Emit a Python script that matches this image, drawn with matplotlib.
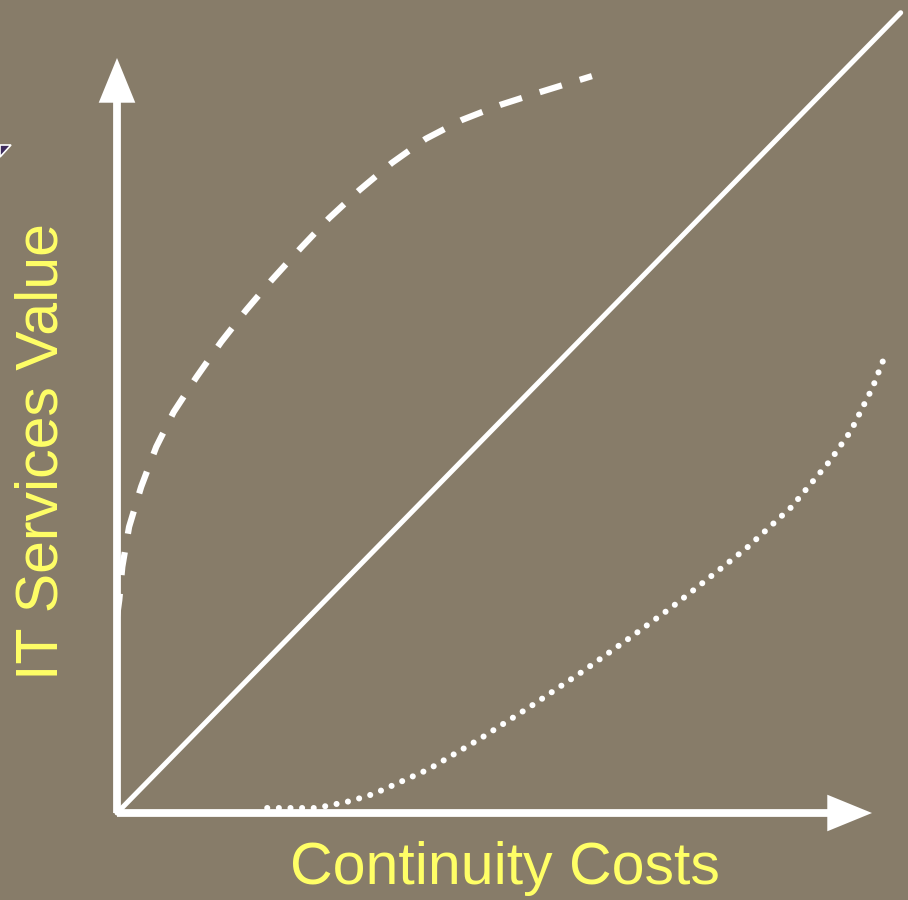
import matplotlib
matplotlib.use("Agg")
import matplotlib.pyplot as plt
from matplotlib.patches import Polygon

# ---- data (abstract units: origin = 0,0; axis arrows reach 100) ----
x_label = "Continuity Costs"
y_label = "IT Services Value"

axis_len = 100.0

linear_x = [0.0, 103.8]
linear_y = [0.0, 106.0]

dashed_x = [0.0, 0.3, 0.7, 1.6, 3.2, 5.2, 7.5, 10.5, 13.8, 17.1, 20.5, 24.4,
            28.1, 32.1, 36.4, 40.9, 45.7, 50.8, 56.1, 62.9]
dashed_y = [26.0, 28.2, 32.6, 37.9, 43.2, 48.5, 53.1, 57.7, 62.4, 66.6, 70.6,
            74.9, 78.8, 82.5, 86.1, 89.3, 91.8, 93.8, 95.5, 97.6]

dotted_x = [19.9, 26.2, 27.8, 31.0, 33.9, 35.5, 41.3, 48.2, 54.9, 61.6, 68.2,
            73.4, 77.1, 83.4, 89.3, 94.4, 97.2, 100.1, 101.5]
dotted_y = [0.66, 0.66, 0.93, 1.6, 2.5, 3.2, 5.8, 9.9, 14.2, 18.7, 23.4,
            27.2, 30.1, 35.1, 40.5, 46.6, 50.6, 56.4, 60.0]

# ---- style ----
bg = "#877c69"
white = "white"
yellow = "#ffff66"

W, H, DPI = 908, 900, 100
ox, oy, ppu = 117.0, 813.0, 7.55  # origin pixel and pixels per unit

fig = plt.figure(figsize=(W / DPI, H / DPI), dpi=DPI, facecolor=bg)
ax = fig.add_axes([0, 0, 1, 1])
ax.set_facecolor(bg)
ax.set_xlim(-ox / ppu, (W - ox) / ppu)
ax.set_ylim(-(H - oy) / ppu, oy / ppu)
ax.axis("off")

# axes arrows
arrow_style = "-|>,head_length=1.1,head_width=0.45"
for tip in [(axis_len, 0.0), (0.0, axis_len)]:
    ax.annotate("", xy=tip, xytext=(0.0, 0.0),
                arrowprops=dict(arrowstyle=arrow_style, color=white, lw=5.6,
                                mutation_scale=20, shrinkA=0, shrinkB=0,
                                joinstyle="miter", capstyle="butt"),
                zorder=3)

# linear relation
ax.plot(linear_x, linear_y, color=white, lw=3.6, solid_capstyle="round", zorder=4)

# dashed curve
ax.plot(dashed_x, dashed_y, color=white, lw=4.5, linestyle=(0, (3.7, 3.0)),
        dash_capstyle="butt", zorder=4)

# dotted curve
ax.plot(dotted_x, dotted_y, color=white, lw=4.4, linestyle=(0, (0.001, 1.9)),
        dash_capstyle="round", zorder=4)

# labels
fig.text(505 / W, 1 - 868 / H, x_label, color=yellow, fontsize=42.5,
         family="Liberation Sans", ha="center", va="center")
fig.text(42 / W, 1 - 452 / H, y_label, color=yellow, fontsize=42.5,
         family="Liberation Sans", ha="center", va="center", rotation=90)

# decorative slide fragment at the left edge
frag = Polygon([[0, 1 - 145 / H], [11 / W, 1 - 145 / H], [0, 1 - 157 / H]],
               closed=True, transform=fig.transFigure, facecolor="#3d2b5c",
               edgecolor=white, lw=1.2)
fig.patches.append(frag)

fig.savefig("out.png", dpi=DPI, facecolor=bg)
